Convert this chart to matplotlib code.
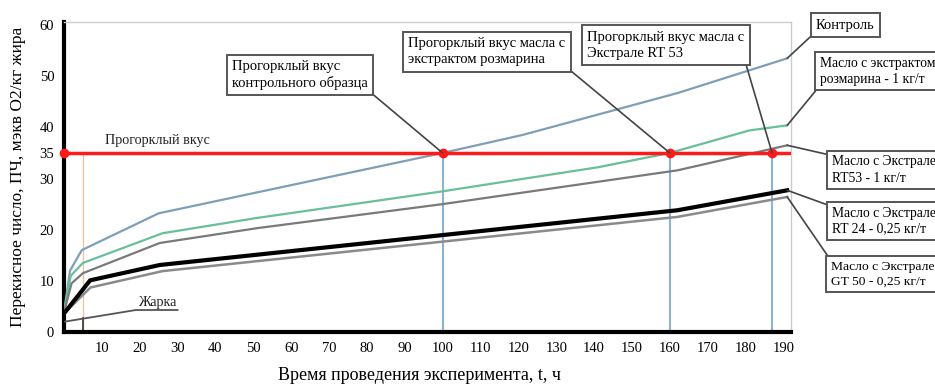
import numpy as np
import matplotlib.pyplot as plt

plt.rcParams['font.family'] = ['Liberation Serif', 'DejaVu Serif']

# Peroxide value (meq O2/kg fat) vs time (h)
t_control = [0, 1.6, 4.7, 25, 100, 121, 162, 191]
pv_control = [3.8, 12, 16, 23.2, 35, 38.5, 46.7, 53.5]

t_rosemary = [0, 1.8, 5, 26, 51, 100, 120, 141, 160, 181, 191]
pv_rosemary = [3.8, 11, 13.5, 19.3, 22.3, 27.5, 29.8, 32.2, 35, 39.4, 40.4]

t_rt53 = [0, 2, 5, 25.3, 51, 100, 162, 191]
pv_rt53 = [3.8, 9.5, 11.5, 17.4, 20.3, 25, 31.6, 36.5]

t_rt24 = [0, 6.9, 25.3, 162, 191]
pv_rt24 = [3.6, 10.1, 13.1, 23.8, 27.7]

t_gt50 = [0, 7, 26, 162, 191]
pv_gt50 = [3.6, 8.7, 11.9, 22.5, 26.4]

t_frying = [0, 19, 30]
pv_frying = [2, 4.3, 4.3]

rancid_level = 35
rancid_t = [0, 100, 160, 187]
frying_t = 5

x_ticks = list(range(10, 200, 10))
y_ticks = [0, 10, 20, 30, 35, 40, 50, 60]

fig = plt.figure(figsize=(9.35, 3.9), dpi=100)
ax = fig.add_axes([0.0684, 0.1487, 0.7776, 0.7949])
ax.set_xlim(0, 192)
ax.set_ylim(0, 60.6)

# guide lines
for t in rancid_t[1:]:
    ax.plot([t, t], [0, rancid_level], color='#8ab4d4', lw=1.5, zorder=2)
ax.plot([frying_t, frying_t], [0, rancid_level], color='#f0c39c', lw=1, zorder=2)
ax.plot([frying_t, frying_t], [0, 2.7], color='#333333', lw=1.2, zorder=2)

ax.plot(t_control, pv_control, color='#7f9fb6', lw=1.6, zorder=3)
ax.plot(t_rosemary, pv_rosemary, color='#68bf98', lw=1.6, zorder=3)
ax.plot(t_rt53, pv_rt53, color='#7a7a7a', lw=1.6, zorder=3)
ax.plot(t_gt50, pv_gt50, color='#8a8a8a', lw=1.8, zorder=3)
ax.plot(t_rt24, pv_rt24, color='black', lw=3, zorder=4)
ax.plot(t_frying, pv_frying, color='#555555', lw=1.3, zorder=3)

ax.axhline(rancid_level, color='#ff1a1a', lw=2.5, zorder=5)
ax.plot(rancid_t, [rancid_level] * len(rancid_t), 'o', color='#ff1a1a',
        ms=6, zorder=6, clip_on=False)

ax.text(10.8, 36.8, 'Прогорклый вкус', fontsize=10.2, color='#222222')
ax.text(24.5, 5.0, 'Жарка', fontsize=10.2, color='#222222', ha='center')

ax.set_xticks(x_ticks)
ax.set_yticks(y_ticks)
ax.tick_params(length=0, labelsize=10.5, pad=7)
for s in ['left', 'bottom']:
    ax.spines[s].set_linewidth(3)
    ax.spines[s].set_color('black')
for s in ['top', 'right']:
    ax.spines[s].set_linewidth(1)
    ax.spines[s].set_color('#cccccc')

ax.set_ylabel('Перекисное число, ПЧ, мэкв О2/кг жира', fontsize=12.5, labelpad=10)
fig.text(0.449, 0.025, 'Время проведения эксперимента, t, ч', fontsize=13, ha='center')

box = dict(boxstyle='square,pad=0.35', fc='white', ec='#555555', lw=1.4)
H = 390


def callout(text, xy, pos, rel, ha='center', size=10.5):
    ax.annotate(text, xy=xy, xycoords='data',
                xytext=(pos[0], H - pos[1]), textcoords='figure pixels',
                ha=ha, va='center', multialignment='left', fontsize=size,
                linespacing=1.3, bbox=box, annotation_clip=False, zorder=7,
                arrowprops=dict(arrowstyle='-', color='#444444', lw=1.2,
                                relpos=rel, shrinkA=0, shrinkB=0))


callout('Прогорклый вкус\nконтрольного образца', (100, 35), (300, 75), (1, 0))
callout('Прогорклый вкус масла с\nэкстрактом розмарина', (160, 35), (487, 52), (1, 0))
callout('Прогорклый вкус масла с\nЭкстрале RT 53', (187, 35), (666, 45), (1, 0))

# series labels to the right of the axes
callout('Контроль', (t_control[-1], pv_control[-1]), (816, 25), (0, 0), ha='left')
callout('Масло с экстрактом\nрозмарина - 1 кг/т', (t_rosemary[-1], pv_rosemary[-1]),
        (820, 71), (0, 0), ha='left', size=9.8)
callout('Масло с Экстрале\nRT53 - 1 кг/т', (t_rt53[-1], pv_rt53[-1]),
        (832, 170), (0, 1), ha='left', size=9.8)
callout('Масло с Экстрале\nRT 24 - 0,25 кг/т', (t_rt24[-1], pv_rt24[-1]),
        (832, 221), (0, 1), ha='left', size=9.8)
callout('Масло с Экстрале\nGT 50 - 0,25 кг/т', (t_gt50[-1], pv_gt50[-1]),
        (831, 274), (0, 1), ha='left', size=9.7)

fig.savefig('out.png', dpi=100)
